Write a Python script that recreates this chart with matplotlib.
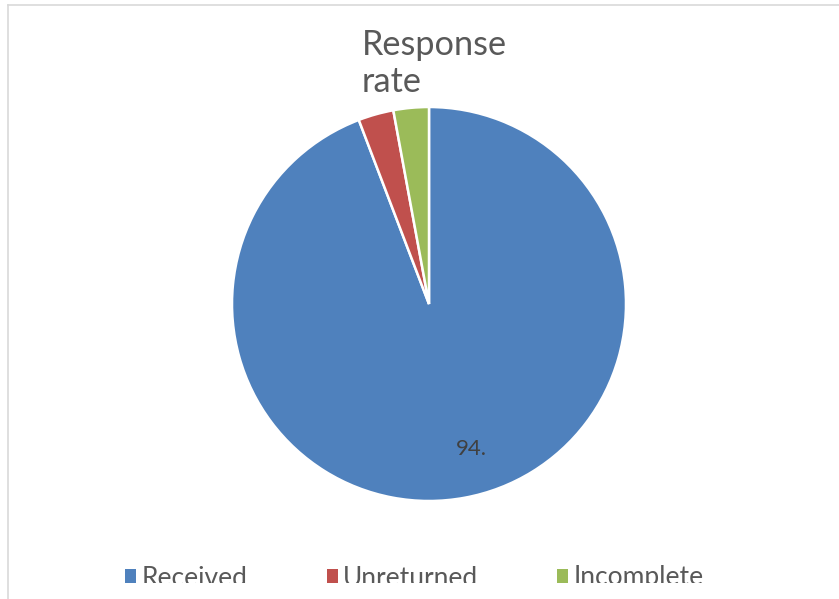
import matplotlib
matplotlib.use("Agg")
import matplotlib.pyplot as plt
from matplotlib.patches import Patch, Rectangle
from matplotlib.lines import Line2D

plt.rcParams['font.family'] = ['Lato', 'DejaVu Sans']

# data
labels = ['Received', 'Unreturned', 'Incomplete']
values = [94.2, 2.9, 2.9]
colors = ['#4f81bd', '#c0504d', '#9bbb59']
title = 'Response\nrate'

W, H = 839, 599
fig = plt.figure(figsize=(W / 100, H / 100), dpi=100)

# pie axes: centre (429, 304) px, radius 197 px
cx, cy, r = 429, 304, 197
ax = fig.add_axes([(cx - r) / W, (H - cy - r) / H, 2 * r / W, 2 * r / H])
wedges, texts, autotexts = ax.pie(
    values, colors=colors, startangle=90, counterclock=False,
    autopct=lambda p: f"{p:.0f}." if p > 50 else "",
    pctdistance=0.75,
    wedgeprops=dict(edgecolor='white', linewidth=1.8),
    textprops=dict(color='#404040', fontsize=16))
autotexts[0].set_ha('left')
ax.set_xlim(-1, 1)
ax.set_ylim(-1, 1)
ax.set_aspect('equal')
ax.axis('off')

# title
fig.text(362 / W, 1 - 29 / H, title, ha='left', va='top', fontsize=24.7,
         color='#595959', linespacing=1.2)

# legend
handles = [Patch(facecolor=c, edgecolor='none', label=l) for c, l in zip(colors, labels)]
fig.legend(handles=handles, loc='center', bbox_to_anchor=(0.494, 1 - 578 / H),
           ncol=3, frameon=False, fontsize=19, labelcolor='#595959',
           handlelength=0.42, handleheight=0.42, handletextpad=0.2,
           columnspacing=3.0)

# chart area is cut off at the bottom
fig.patches.append(Rectangle((10 / W, 0), 1, 16 / H, transform=fig.transFigure,
                             facecolor='white', edgecolor='none', zorder=10))

# border (left and top only visible)
fig.lines.append(Line2D([8 / W, 8 / W], [0, 1 - 5 / H], transform=fig.transFigure,
                        color='#d9d9d9', linewidth=1.2, zorder=11))
fig.lines.append(Line2D([8 / W, 1], [1 - 5 / H, 1 - 5 / H], transform=fig.transFigure,
                        color='#d9d9d9', linewidth=1.2, zorder=11))

fig.savefig('out.png', dpi=100)
